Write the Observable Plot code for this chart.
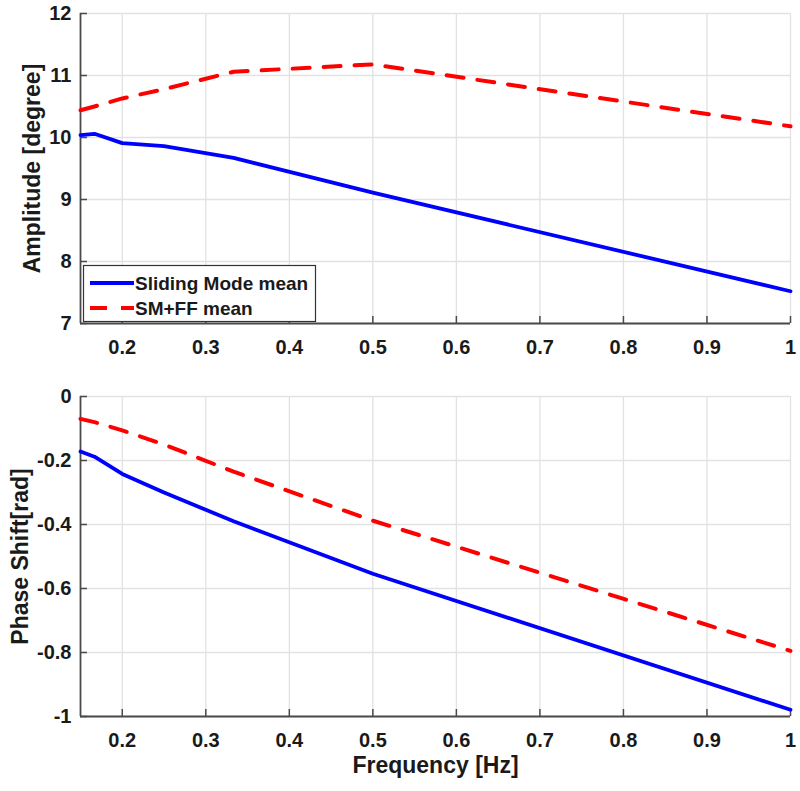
<!DOCTYPE html>
<html><head><meta charset="utf-8">
<script src="https://cdn.jsdelivr.net/npm/d3@7"></script>
<script src="https://cdn.jsdelivr.net/npm/@observablehq/plot@0.6"></script>
<style>
body{margin:0;background:#fff;}
#chart{width:800px;}
#chart svg{display:block;}
</style></head><body><div id="chart"></div>
<script>
// ---- data ----
const freq = [0.15, 0.1667, 0.2, 0.25, 0.3333, 0.5, 1.0];
const ampSM = [10.04, 10.06, 9.91, 9.86, 9.67, 9.11, 7.52];
const ampFF = [10.44, 10.50, 10.63, 10.78, 11.06, 11.18, 10.18];
const phaseSM = [-0.172, -0.188, -0.242, -0.30, -0.39, -0.554, -0.979];
const phaseFF = [-0.07, -0.08, -0.106, -0.15, -0.235, -0.388, -0.795];
const seriesNames = ["Sliding Mode mean", "SM+FF mean"];
const xTicks = [0.2, 0.3, 0.4, 0.5, 0.6, 0.7, 0.8, 0.9, 1.0];
const xTickLabels = ["0.2", "0.3", "0.4", "0.5", "0.6", "0.7", "0.8", "0.9", "1"];
const ampTicks = [7, 8, 9, 10, 11, 12];
const ampTickLabels = ["7", "8", "9", "10", "11", "12"];
const phaseTicks = [-1, -0.8, -0.6, -0.4, -0.2, 0];
const phaseTickLabels = ["-1", "-0.8", "-0.6", "-0.4", "-0.2", "0"];

const W = 800, ML = 80, MR = 10;
const PW = W - ML - MR;
const BLUE = "#0000ff", RED = "#ff0000";
const GRID = "#e2e2e2", AX = "#4a4a4a";
const FONT = "'Liberation Sans', Arial, Helvetica, sans-serif";

function rows(ys) { return freq.map((f, i) => ({f, v: ys[i]})); }

function panel({height, mt, mb, domain, yTicks, yLabels, ylabel, ylabelDx, a, b, xlabel}) {
  const PH = height - mt - mb;
  const marks = [
    Plot.gridX(xTicks, {stroke: GRID, strokeOpacity: 1, strokeWidth: 1.3}),
    Plot.gridY(yTicks, {stroke: GRID, strokeOpacity: 1, strokeWidth: 1.3}),
    Plot.ruleY([domain[0]], {stroke: AX, strokeWidth: 1.8}),
    Plot.ruleX([0.15], {stroke: AX, strokeWidth: 1.8}),
    Plot.tickX(xTicks, {x: d => d, stroke: AX, strokeWidth: 1.5, insetTop: PH - 7}),
    Plot.tickY(yTicks, {y: d => d, stroke: AX, strokeWidth: 1.5, insetRight: PW - 7}),
    Plot.axisX(xTicks, {tickSize: 0, tickPadding: 16, fontSize: 20, fontWeight: "bold", fill: "#1a1a1a", tickFormat: d => xTickLabels[xTicks.indexOf(d)], label: null}),
    Plot.axisY(yTicks, {tickSize: 0, tickPadding: 9, fontSize: 20, fontWeight: "bold", fill: "#1a1a1a", tickFormat: d => yLabels[yTicks.indexOf(d)], label: null}),
    Plot.text([ylabel], {frameAnchor: "left", textAnchor: "middle", rotate: -90, dx: ylabelDx, fontSize: 23, fontWeight: "bold", fill: "#1a1a1a"}),
    Plot.line(rows(a), {x: "f", y: "v", stroke: BLUE, strokeWidth: 3.8}),
    Plot.line(rows(b), {x: "f", y: "v", stroke: RED, strokeWidth: 4, strokeDasharray: "17,14"})
  ];
  if (xlabel) marks.push(Plot.text([xlabel], {frameAnchor: "bottom", dy: 56, fontSize: 23, fontWeight: "bold", fill: "#1a1a1a"}));
  return Plot.plot({
    width: W, height, marginLeft: ML, marginRight: MR, marginTop: mt, marginBottom: mb,
    style: {fontFamily: FONT, fontSize: "20px", fontWeight: "bold", color: "#1a1a1a", background: "white", overflow: "visible"},
    x: {domain: [0.15, 1]},
    y: {domain},
    marks
  });
}

const topPanel = panel({height: 370, mt: 13, mb: 47, domain: [7, 12], yTicks: ampTicks, yLabels: ampTickLabels,
  ylabel: "Amplitude [degree]", ylabelDx: -48, a: ampSM, b: ampFF});
const bottomPanel = panel({height: 421, mt: 26, mb: 75, domain: [-1, 0], yTicks: phaseTicks, yLabels: phaseTickLabels,
  ylabel: "Phase Shift[rad]", ylabelDx: -60, a: phaseSM, b: phaseFF, xlabel: "Frequency [Hz]"});

document.getElementById("chart").append(topPanel, bottomPanel);

// legend (inside top panel, lower-left)
const g = d3.select(topPanel).append("g").attr("font-family", FONT).attr("font-weight", "bold")
  .attr("font-size", 19).attr("text-anchor", "start");
g.append("rect").attr("x", 83.5).attr("y", 265.5).attr("width", 232).attr("height", 56)
  .attr("fill", "white").attr("stroke", "#333").attr("stroke-width", 1.2);
const items = [{name: seriesNames[0], color: BLUE, dash: null, w: 3.8}, {name: seriesNames[1], color: RED, dash: "17,14", w: 4}];
items.forEach((it, i) => {
  const y = 283 + i * 25;
  const ln = g.append("line").attr("x1", 90).attr("x2", 134).attr("y1", y).attr("y2", y)
    .attr("stroke", it.color).attr("stroke-width", it.w);
  if (it.dash) ln.attr("stroke-dasharray", it.dash);
  g.append("text").attr("x", 135).attr("y", y).attr("dy", "0.35em").attr("fill", "#1a1a1a").text(it.name);
});
</script></body></html>
